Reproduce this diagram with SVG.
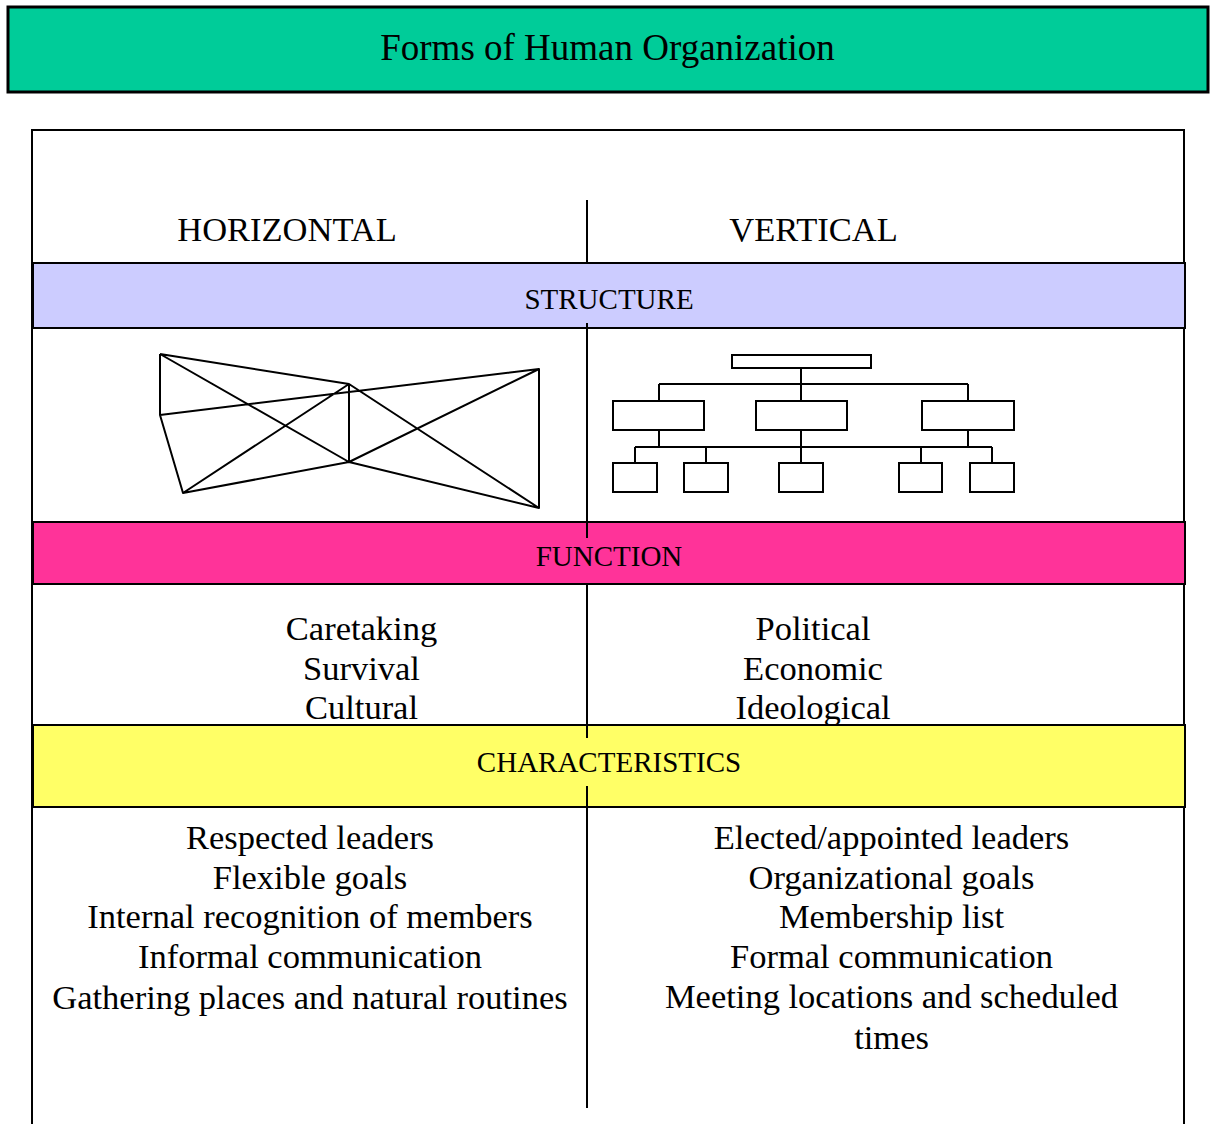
<svg xmlns="http://www.w3.org/2000/svg" width="1212" height="1124" viewBox="0 0 1212 1124">
<style>
.t{font-family:"Liberation Serif","Times New Roman",serif;fill:#000;text-anchor:middle}
.body{font-size:34.5px}
.band{font-size:29px}
.ln{stroke:#000;stroke-width:2;fill:none}
.bx{stroke:#000;stroke-width:2;fill:#fff}
</style>
<rect width="1212" height="1124" fill="#fff"/>
<g id="title">
<rect x="8" y="7" width="1200" height="85" fill="#00CC99" stroke="#000" stroke-width="3"/>
<text class="t" x="607.5" y="60" font-size="37">Forms of Human Organization</text>
</g>
<g id="frame">
<path class="ln" d="M32,1124 V130 H1184 V1124"/>
</g>
<g id="headers">
<text class="t body" x="287" y="241">HORIZONTAL</text>
<text class="t body" x="813.5" y="241">VERTICAL</text>
</g>
<g id="structure-band">
<rect x="33" y="263" width="1152" height="65" fill="#CCCCFF" stroke="#000" stroke-width="2"/>
<text class="t band" x="609" y="309">STRUCTURE</text>
</g>
<g id="function-band">
<rect x="33" y="522" width="1152" height="62" fill="#FF3399" stroke="#000" stroke-width="2"/>
<text class="t band" x="609" y="566">FUNCTION</text>
</g>
<g id="characteristics-band">
<rect x="33" y="725" width="1152" height="82" fill="#FFFF66" stroke="#000" stroke-width="2"/>
<text class="t band" x="609" y="772">CHARACTERISTICS</text>
</g>
<g id="divider">
<path class="ln" d="M587,200 V263 M587,323 V538 M587,584 V738 M587,786 V1108"/>
</g>
<g id="horizontal-structure" class="ln">
<path class="ln" stroke-linejoin="round" d="M160,354 L160,415 L183,493 L349,384 L349,462 L183,493 M160,354 L349,384 M160,354 L349,462 M160,415 L539,369 L539,508 L349,462 L539,369 M349,384 L539,508"/>
</g>
<g id="vertical-structure">
<path class="ln" d="M801,368 V384 M659,384 H968 M659,384 V401 M801,384 V401 M968,384 V401 M659,430 V447 M801,430 V447 M968,430 V447 M635,447 H992 M635,447 V463 M706,447 V463 M801,447 V463 M921,447 V463 M992,447 V463"/>
<rect class="bx" x="732" y="355" width="139" height="13"/>
<rect class="bx" x="613" y="401" width="91" height="29"/>
<rect class="bx" x="756" y="401" width="91" height="29"/>
<rect class="bx" x="922" y="401" width="92" height="29"/>
<rect class="bx" x="613" y="463" width="44" height="29"/>
<rect class="bx" x="684" y="463" width="44" height="29"/>
<rect class="bx" x="779" y="463" width="44" height="29"/>
<rect class="bx" x="899" y="463" width="43" height="29"/>
<rect class="bx" x="970" y="463" width="44" height="29"/>
</g>
<g id="horizontal-function">
<text class="t body" x="361.5" y="640">Caretaking</text>
<text class="t body" x="361.5" y="680">Survival</text>
<text class="t body" x="361.5" y="719">Cultural</text>
</g>
<g id="vertical-function">
<text class="t body" x="813" y="640">Political</text>
<text class="t body" x="813" y="680">Economic</text>
<text class="t body" x="813" y="719">Ideological</text>
</g>
<g id="horizontal-characteristics">
<text class="t body" x="310" y="849">Respected leaders</text>
<text class="t body" x="310" y="889">Flexible goals</text>
<text class="t body" x="310" y="928">Internal recognition of members</text>
<text class="t body" x="310" y="968">Informal communication</text>
<text class="t body" x="310" y="1009">Gathering places and natural routines</text>
</g>
<g id="vertical-characteristics">
<text class="t body" x="891.5" y="849">Elected/appointed leaders</text>
<text class="t body" x="891.5" y="889">Organizational goals</text>
<text class="t body" x="891.5" y="928">Membership list</text>
<text class="t body" x="891.5" y="968">Formal communication</text>
<text class="t body" x="891.5" y="1008">Meeting locations and scheduled</text>
<text class="t body" x="891.5" y="1049">times</text>
</g>
</svg>
